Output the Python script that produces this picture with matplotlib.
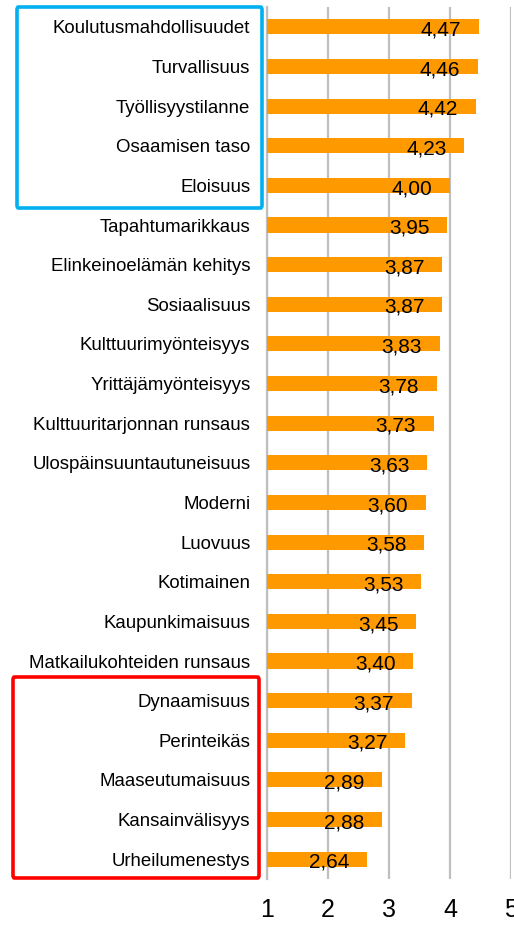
import matplotlib
matplotlib.use("Agg")
import matplotlib.pyplot as plt
from matplotlib.patches import FancyBboxPatch

plt.rcParams['font.family'] = ['Liberation Sans', 'DejaVu Sans']

categories = ["Koulutusmahdollisuudet", "Turvallisuus", "Työllisyystilanne",
              "Osaamisen taso", "Eloisuus", "Tapahtumarikkaus",
              "Elinkeinoelämän kehitys", "Sosiaalisuus", "Kulttuurimyönteisyys",
              "Yrittäjämyönteisyys", "Kulttuuritarjonnan runsaus",
              "Ulospäinsuuntautuneisuus", "Moderni", "Luovuus", "Kotimainen",
              "Kaupunkimaisuus", "Matkailukohteiden runsaus", "Dynaamisuus",
              "Perinteikäs", "Maaseutumaisuus", "Kansainvälisyys", "Urheilumenestys"]
values = [4.47, 4.46, 4.42, 4.23, 4.00, 3.95, 3.87, 3.87, 3.83, 3.78, 3.73,
          3.63, 3.60, 3.58, 3.53, 3.45, 3.40, 3.37, 3.27, 2.89, 2.88, 2.64]
xticks = [1, 2, 3, 4, 5]

W, H = 514, 927
fig = plt.figure(figsize=(W / 100, H / 100), dpi=100)

def fx(px):
    return px / W

def fy(py):
    return 1 - py / H

left, right, top, bottom = 267, 511, 7, 879
ax = fig.add_axes([fx(left), fy(bottom), fx(right) - fx(left), fy(top) - fy(bottom)])

y = list(range(len(categories)))
ax.barh(y, [v - 1 for v in values], left=1, height=0.38, color='#FF9900', zorder=3)
for yi, v in zip(y, values):
    ax.text(v - 0.62, yi + 0.08, f"{v:.2f}".replace('.', ','), ha='center', va='center',
            fontsize=15, color='black', zorder=4)

ax.set_xlim(1, 5)
ax.set_ylim(len(categories) - 0.5, -0.5)
ax.set_yticks(y)
ax.set_yticklabels(categories, fontsize=13.4)
ax.set_xticks(xticks)
ax.set_xticklabels([str(t) for t in xticks], fontsize=18)
ax.tick_params(axis='y', length=0, pad=12)
ax.tick_params(axis='x', length=0, pad=14)
ax.grid(axis='x', color='#BFBFBF', linewidth=1.6, zorder=0)
for s in ['top', 'right', 'bottom']:
    ax.spines[s].set_visible(False)
ax.spines['left'].set_color('#BFBFBF')
ax.spines['left'].set_linewidth(1.6)

def box(x0, y0, x1, y1, color):
    p = FancyBboxPatch((fx(x0), fy(y1)), fx(x1) - fx(x0), fy(y0) - fy(y1),
                       boxstyle="round,pad=0,rounding_size=0.003",
                       transform=fig.transFigure, fill=False, edgecolor=color,
                       linewidth=2.6, zorder=10)
    fig.add_artist(p)

box(17, 7, 262, 208, '#00B0F0')
box(13, 677, 259, 878, '#FF0000')

fig.savefig('out.png', dpi=100)
